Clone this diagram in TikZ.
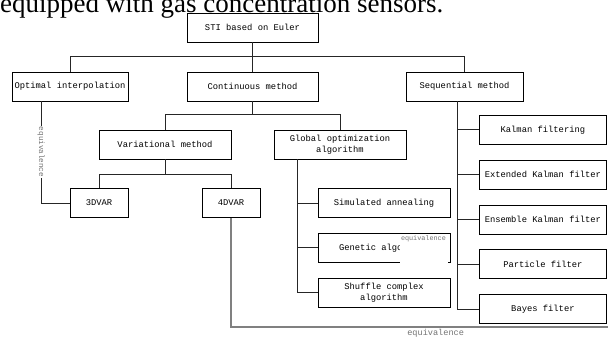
\documentclass[tikz,border=0pt]{standalone}
\usepackage{fontspec}
\setmainfont{Liberation Serif}
\setmonofont{Liberation Mono}
\usetikzlibrary{positioning}
\tikzset{
    box/.style={
        rectangle, draw, line width=0.8pt,
        minimum height=29pt, inner sep=2pt, align=center,
        font=\ttfamily\fontsize{8.8}{11}\selectfont
    },
    filterbox/.style={
        box, minimum width=127pt
    },
    link/.style={
        line width=0.9pt, draw=black!85
    },
    eqline/.style={
        line width=1.3pt, draw=black!50
    },
    eqlabel/.style={
        font=\ttfamily\fontsize{7.6}{9}\selectfont, text=black!55, inner sep=1pt
    }
}

\begin{document}
\begin{tikzpicture}[x=1pt, y=-1pt]
    \useasboundingbox (0,0) rectangle (608,341);
    \clip (0,0) rectangle (608,341);

    % --- CAPTION (cut off at top) ---
    \node[anchor=base west, inner sep=0, font=\fontsize{27}{30}\selectfont] (caption) at (0,12) {equipped with gas concentration sensors.};

    % --- ROOT & FIRST LEVEL ---
    \node[box, minimum width=131pt] (root) at (252.5,27.5) {STI based on Euler};
    \node[box, minimum width=116pt] (optimal) at (70,86.5) {Optimal interpolation};
    \node[box, minimum width=131pt] (continuous) at (252.5,86.5) {Continuous method};
    \node[box, minimum width=117pt] (sequential) at (464.5,86.5) {Sequential method};

    % --- CONTINUOUS BRANCH ---
    \node[box, minimum width=132pt] (variational) at (165,144.5) {Variational method};
    \node[box, minimum width=132pt] (globalopt) at (340,144.5) {Global optimization\\algorithm};
    \node[box, minimum width=58pt] (dvar3) at (99,203) {3DVAR};
    \node[box, minimum width=58pt] (dvar4) at (231,203) {4DVAR};

    \node[box, minimum width=132pt] (annealing) at (384,203) {Simulated annealing};
    \node[box, minimum width=132pt, below=15pt of annealing] (genetic) {Genetic algorithm};
    \node[box, minimum width=132pt, below=15pt of genetic] (shuffle) {Shuffle complex\\algorithm};

    % --- SEQUENTIAL BRANCH ---
    \node[filterbox, anchor=north west] (kalman) at (479,115) {Kalman filtering};
    \node[filterbox, below=15pt of kalman] (extkalman) {Extended Kalman filter};
    \node[filterbox, below=15pt of extkalman] (enskalman) {Ensemble Kalman filter};
    \node[filterbox, below=15pt of enskalman] (particle) {Particle filter};
    \node[filterbox, below=15pt of particle] (bayes) {Bayes filter};

    % --- CONNECTORS ---
    \draw[link] (optimal.north) -- ++(0,-15) -| (sequential.north);
    \draw[link] (root) -- (continuous);
    \draw[link] (continuous.south) -- ++(0,14);
    \draw[link] (variational.north) -- ++(0,-15) -| (globalopt.north);
    \draw[link] (variational.south) -- ++(0,15);
    \draw[link] (dvar3.north) -- ++(0,-14) -| (dvar4.north);

    \coordinate (gtrunk) at (297,159);
    \draw[link] (gtrunk) |- (shuffle.west);
    \foreach \n in {annealing, genetic}
        \draw[link] (gtrunk |- \n.west) -- (\n.west);

    \coordinate (strunk) at (457,101);
    \draw[link] (strunk) |- (bayes.west);
    \foreach \n in {kalman, extkalman, enskalman, particle}
        \draw[link] (strunk |- \n.west) -- (\n.west);

    % --- EQUIVALENCE LINKS ---
    \coordinate (otrunk) at (41,101);
    \draw[link] (otrunk) |- node[pos=0.25, eqlabel, rotate=-90, fill=white] {equivalence} (dvar3.west);

    \coordinate (rimend) at (610,327);
    \draw[eqline] (dvar4.south) |- node[pos=0.77, below=1pt, eqlabel, font=\ttfamily\fontsize{8.6}{10}\selectfont] {equivalence} (rimend);

    \node[fill=white, minimum width=48pt, minimum height=29pt, inner sep=0,
          label={[eqlabel, anchor=north west, font=\ttfamily\fontsize{6.8}{8}\selectfont]north west:equivalence}] (eqcover) at (424,249) {};

\end{tikzpicture}
\end{document}
